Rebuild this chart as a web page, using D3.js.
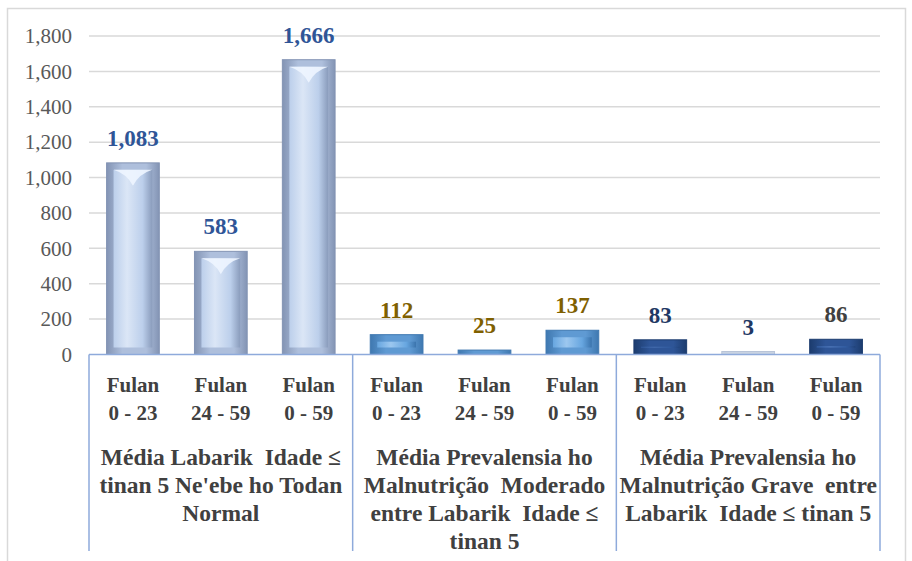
<!DOCTYPE html>
<html>
<head>
<meta charset="utf-8">
<script src="https://cdn.jsdelivr.net/npm/d3@7"></script>
<style>
  body { margin: 0; background: #fff; }
  svg text { font-family: "Liberation Serif", "Times New Roman", serif; }
</style>
</head>
<body>
<svg id="chart" width="912" height="561"></svg>
<script>
// chart data
const months = ['Fulan 0 - 23', 'Fulan 24 - 59', 'Fulan 0 - 59'];
const groupLabels = [
  ['Média Labarik  Idade ≤', "tinan 5 Ne'ebe ho Todan", 'Normal'],
  ['Média Prevalensia ho', 'Malnutrição  Moderado', 'entre Labarik  Idade ≤', 'tinan 5'],
  ['Média Prevalensia ho', 'Malnutrição Grave  entre', 'Labarik  Idade ≤ tinan 5']
];
const normalValues = [1083, 583, 1666];
const moderateValues = [112, 25, 137];
const severeValues = [83, 3, 86];
const yTicks = [0, 200, 400, 600, 800, 1000, 1200, 1400, 1600, 1800];

const series = [normalValues, moderateValues, severeValues];
const bars = [];
series.forEach((vals, g) => {
  vals.forEach((v, i) => bars.push({ g: g, i: i, key: g * 3 + i, value: v, label: months[i] }));
});

const svg = d3.select('#chart');
const margin = { left: 89, right: 32, top: 36, bottom: 206.5 };
const W = 912, H = 561;
const serif = '"Liberation Serif", "Times New Roman", serif';

// outer chart frame
svg.append('rect')
  .attr('x', 7.5).attr('y', 8.5)
  .attr('width', 898).attr('height', 560)
  .attr('fill', '#fff')
  .attr('stroke', '#d9d9d9')
  .attr('stroke-width', 1.5);

const x = d3.scaleBand()
  .domain(bars.map(d => d.key))
  .range([margin.left, W - margin.right])
  .paddingInner(0.4)
  .paddingOuter(0.2);

const y = d3.scaleLinear()
  .domain([0, 1800])
  .range([H - margin.bottom, margin.top]);

// gridlines
svg.append('g')
  .selectAll('line')
  .data(yTicks.slice(1))
  .enter()
  .append('line')
  .attr('x1', margin.left)
  .attr('x2', W - margin.right)
  .attr('y1', d => y(d))
  .attr('y2', d => y(d))
  .attr('stroke', '#d9d9d9')
  .attr('stroke-width', 1.5);

// y axis labels
const yAxis = svg.append('g')
  .attr('transform', 'translate(' + (margin.left - 17) + ',0)')
  .call(d3.axisLeft(y).tickValues(yTicks).tickFormat(d3.format(',')).tickSize(0).tickPadding(0));
yAxis.attr('font-family', serif);
yAxis.select('.domain').remove();
yAxis.selectAll('text')
  .attr('fill', '#595959')
  .style('font-size', '21px')
  .style('font-family', serif);

// bevel gradients
const palettes = [
  { edge: '#8394b4', rim: '#aebfdc', face: ['#dbe6f6', '#bccfeb', '#8a9cbc'] },
  { edge: '#3f78b0', rim: '#5f9ad3', face: ['#9cc7ef', '#67a6e0', '#3b74ad'] },
  { edge: '#1c3c6e', rim: '#2e5597', face: ['#5079bb', '#325ea4', '#1e3f75'] }
];
const defs = svg.append('defs');
palettes.forEach((p, g) => {
  const rim = defs.append('linearGradient').attr('id', 'rim' + g);
  rim.append('stop').attr('offset', '0%').attr('stop-color', p.edge);
  rim.append('stop').attr('offset', '30%').attr('stop-color', p.rim);
  rim.append('stop').attr('offset', '75%').attr('stop-color', p.rim);
  rim.append('stop').attr('offset', '100%').attr('stop-color', p.edge);
  const face = defs.append('linearGradient').attr('id', 'face' + g);
  face.append('stop').attr('offset', '0%').attr('stop-color', p.face[1]);
  face.append('stop').attr('offset', '35%').attr('stop-color', p.face[0]);
  face.append('stop').attr('offset', '75%').attr('stop-color', p.face[1]);
  face.append('stop').attr('offset', '100%').attr('stop-color', p.face[2]);
});

const barG = svg.append('g').attr('class', 'bars');
const barEls = barG.selectAll('g.bar')
  .data(bars)
  .enter()
  .append('g')
  .attr('class', 'bar');

// rim, with a minimum so the tiny bars still show their bevel
barEls.append('rect')
  .attr('x', d => x(d.key))
  .attr('width', x.bandwidth())
  .attr('y', d => Math.min(y(d.value), y(0) - 3))
  .attr('height', d => Math.max(y(0) - y(d.value), 3))
  .attr('fill', d => d.value < 10 ? '#c9d3e2' : 'url(#rim' + d.g + ')')
  .attr('stroke', d => d.value < 10 ? '#b8c4d8' : palettes[d.g].edge)
  .attr('stroke-width', 1);

// inner face
const inset = 7;
barEls.filter(d => y(0) - y(d.value) > 12)
  .append('rect')
  .attr('x', d => x(d.key) + inset)
  .attr('width', x.bandwidth() - inset * 2)
  .attr('y', d => y(d.value) + inset)
  .attr('height', d => y(0) - y(d.value) - inset * 2)
  .attr('fill', d => 'url(#face' + d.g + ')');

// highlight on top of the face
barEls.filter(d => y(0) - y(d.value) > 60)
  .append('path')
  .attr('d', d => {
    const x0 = x(d.key) + inset, x1 = x(d.key) + x.bandwidth() - inset;
    const y0 = y(d.value) + inset;
    const xm = (x0 + x1) / 2;
    return 'M' + x0 + ',' + y0 + 'L' + x1 + ',' + y0 + 'Q' + (xm + 6) + ',' + (y0 + 4) + ' ' + xm + ',' + (y0 + 16) + 'Q' + (xm - 6) + ',' + (y0 + 4) + ' ' + x0 + ',' + y0 + 'Z';
  })
  .attr('fill', '#eef5ff')
  .attr('opacity', 0.9);

// value labels
const labelColors = [
  ['#2f5597', '#2f5597', '#2f5597'],
  ['#7f6000', '#7f6000', '#7f6000'],
  ['#1f3864', '#1f3864', '#404040']
];
svg.append('g')
  .selectAll('text')
  .data(bars)
  .enter()
  .append('text')
  .attr('x', d => x(d.key) + x.bandwidth() / 2)
  .attr('y', d => Math.min(y(d.value), y(0) - 3) - 17)
  .attr('text-anchor', 'middle')
  .attr('fill', d => labelColors[d.g][d.i])
  .style('font-family', serif)
  .style('font-size', '23px')
  .style('font-weight', 'bold')
  .text(d => d3.format(',')(d.value));

// category axis box
const axisY = y(0);
const boxBottom = 551;
const groupEdges = [0, 3, 6, 9].map(k => k < 9 ? x(k) - x.step() * x.paddingInner() / 2 : W - margin.right);
groupEdges[0] = margin.left;

const axisG = svg.append('g').attr('stroke', '#8eaadb').attr('stroke-width', 1.5);
axisG.append('line')
  .attr('x1', margin.left).attr('x2', W - margin.right)
  .attr('y1', axisY).attr('y2', axisY);
axisG.selectAll('line.sep')
  .data(groupEdges)
  .enter()
  .append('line')
  .attr('class', 'sep')
  .attr('x1', d => d).attr('x2', d => d)
  .attr('y1', axisY).attr('y2', boxBottom);

// month labels
const catText = svg.append('g')
  .selectAll('text')
  .data(bars)
  .enter()
  .append('text')
  .attr('text-anchor', 'middle')
  .attr('fill', '#404040')
  .style('font-family', serif)
  .style('font-size', '21px')
  .style('font-weight', 'bold')
  .attr('transform', d => 'translate(' + (x(d.key) + x.bandwidth() / 2) + ',0)');
catText.append('tspan').attr('x', 0).attr('y', 392).text(d => d.label.split(' ')[0]);
catText.append('tspan').attr('x', 0).attr('y', 420).text(d => d.label.split(' ').slice(1).join(' '));

// group labels
const grpText = svg.append('g')
  .selectAll('text')
  .data(groupLabels)
  .enter()
  .append('text')
  .attr('text-anchor', 'middle')
  .attr('fill', '#404040')
  .style('font-family', serif)
  .style('font-size', '23.5px')
  .style('font-weight', 'bold')
  .style('white-space', 'pre')
  .attr('transform', (d, g) => 'translate(' + (groupEdges[g] + groupEdges[g + 1]) / 2 + ',0)');
grpText.selectAll('tspan')
  .data(d => d)
  .enter()
  .append('tspan')
  .attr('x', 0)
  .attr('y', (d, i) => 465 + i * 28)
  .text(d => d);
</script>
</body>
</html>
